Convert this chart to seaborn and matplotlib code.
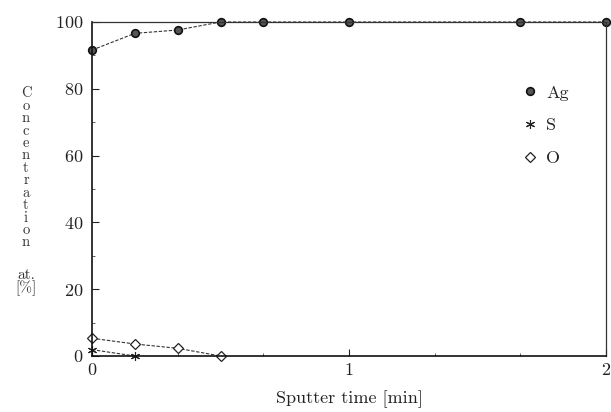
import matplotlib
matplotlib.use("Agg")
import matplotlib.pyplot as plt
import seaborn as sns
import numpy as np
import pandas as pd
from matplotlib.ticker import MultipleLocator, FixedLocator
from matplotlib.lines import Line2D

sns.set_theme(style="white")
plt.rcParams['font.family'] = ['cmr10', 'DejaVu Serif']
plt.rcParams['axes.formatter.use_mathtext'] = True
plt.rcParams['mathtext.fontset'] = 'cm'

# data (sputter time in minutes, concentration in at.%)
ag_time = [0.0, 1/6, 1/3, 0.5, 2/3, 1.0, 5/3, 2.0]
ag_conc = [91.6, 96.6, 97.6, 100.0, 100.0, 100.0, 100.0, 100.0]
s_time = [0.0, 1/6]
s_conc = [1.9, 0.0]
o_time = [0.0, 1/6, 1/3, 0.5]
o_conc = [5.3, 3.6, 2.3, 0.0]

x_ticks = [0, 1, 2]
y_ticks = [0, 20, 40, 60, 80, 100]
ylabel_word = "Concentration"
ylabel_unit = "at.\n[%]"
xlabel = "Sputter time [min]"

fig = plt.figure(figsize=(6.11, 4.12), dpi=100)
ax = fig.add_axes([92/611, 1 - 356/412, (606-92)/611, (356-22)/412])

ag = pd.DataFrame({"t": ag_time, "c": ag_conc})
s = pd.DataFrame({"t": s_time, "c": s_conc})
o = pd.DataFrame({"t": o_time, "c": o_conc})

line_kw = dict(color="#333333", linewidth=0.8, linestyle=(0, (3, 1.5)))
ag_mk = dict(marker="o", markersize=5.5, markerfacecolor="#555555",
             markeredgecolor="#111111", markeredgewidth=1.2)
s_mk = dict(marker=(6, 2, 0), markersize=6.5, markeredgecolor="#222222",
            markeredgewidth=0.8)
o_mk = dict(marker="D", markersize=5, markerfacecolor="white",
            markeredgecolor="#222222", markeredgewidth=0.9)

sns.lineplot(data=ag, x="t", y="c", ax=ax, clip_on=False, **ag_mk, **line_kw)
sns.lineplot(data=s, x="t", y="c", ax=ax, clip_on=False, **s_mk, **line_kw)
sns.lineplot(data=o, x="t", y="c", ax=ax, clip_on=False, **o_mk, **line_kw)

ax.set_xlim(0, 2)
ax.set_ylim(0, 100)
ax.xaxis.set_major_locator(FixedLocator(x_ticks))
ax.yaxis.set_major_locator(FixedLocator(y_ticks))
ax.xaxis.set_minor_locator(MultipleLocator(1/3))
ax.yaxis.set_minor_locator(MultipleLocator(10))
ax.tick_params(which="major", direction="in", length=5, width=0.8, color="#222222",
               labelsize=13, labelcolor="#222222", pad=6)
ax.tick_params(which="minor", direction="in", length=2.5, width=0.6, color="#444444")
ax.tick_params(axis="x", which="major", pad=4)
ax.tick_params(axis="both", which="both", left=True, bottom=True)

for side in ["left", "bottom"]:
    ax.spines[side].set_color("#111111")
    ax.spines[side].set_linewidth(1.2)
for side in ["top", "right"]:
    ax.spines[side].set_color("#333333")
    ax.spines[side].set_linewidth(0.9)

ax.set_xlabel(xlabel, fontsize=13, color="#222222", labelpad=9)
ax.set_ylabel("")

# stacked vertical y label
fig.text(26/611, 1 - 168/412, "\n".join(ylabel_word), ha="center", va="center",
         fontsize=10.5, linespacing=0.88, color="#333333")
fig.text(26/611, 1 - 282/412, ylabel_unit, ha="center", va="center",
         fontsize=11, linespacing=0.85, color="#333333")

handles = [Line2D([], [], linestyle="none", **ag_mk),
           Line2D([], [], linestyle="none", **s_mk),
           Line2D([], [], linestyle="none", **o_mk)]
labels = ["Ag", "S", "O"]
leg = ax.legend(handles, labels, loc="upper left", bbox_to_anchor=(0.81, 0.86),
                frameon=False, fontsize=13, handlelength=0.6, handletextpad=0.6,
                labelspacing=0.95, labelcolor="#222222")

fig.savefig("out.png", dpi=100, facecolor="white")
